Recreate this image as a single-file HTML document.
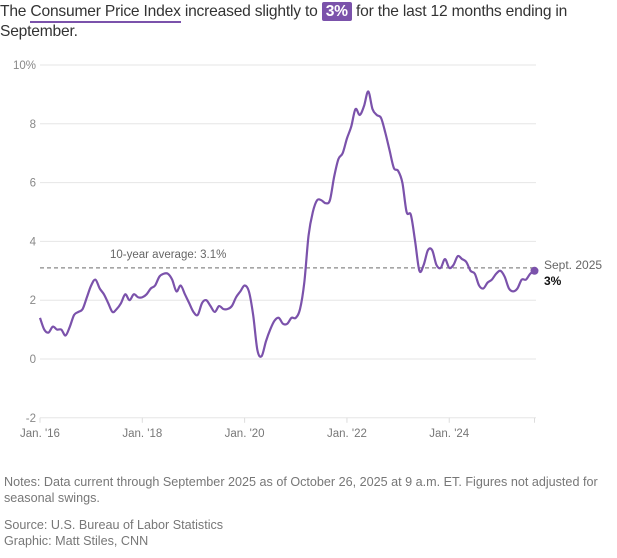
<!DOCTYPE html>
<html><head><meta charset="utf-8"><style>
body{margin:0;background:#fff;width:617px;height:558px;overflow:hidden;font-family:"Liberation Sans",sans-serif;}
#title{position:absolute;left:0;top:2px;width:617px;font-size:15.6px;line-height:20px;color:#333;letter-spacing:-0.2px;}
.ul{border-bottom:2px solid #7b52ab;padding-bottom:1px;}
.hl{background:#7b52ab;color:#fff;font-weight:bold;padding:1px 4px;border-radius:2px;}
.notes{position:absolute;left:4px;font-size:12.6px;color:#777;line-height:16px;}
</style></head><body>
<div id="title">The <span class="ul">Consumer Price Index</span> increased slightly to <span class="hl">3%</span> for the last 12 months ending in September.</div>
<svg id="chart" width="617" height="558" style="position:absolute;left:0;top:0"></svg>
<div class="notes" style="top:474px">Notes: Data current through September 2025 as of October 26, 2025 at 9 a.m. ET. Figures not adjusted for<br>seasonal swings.</div>
<div class="notes" style="top:517px">Source: U.S. Bureau of Labor Statistics<br>Graphic: Matt Stiles, CNN</div>
<script>
const cpiValues=[1.4,1.0,0.9,1.1,1.0,1.0,0.8,1.1,1.5,1.6,1.7,2.1,
2.5,2.7,2.4,2.2,1.9,1.6,1.7,1.9,2.2,2.0,2.2,2.1,
2.1,2.2,2.4,2.5,2.8,2.9,2.9,2.7,2.3,2.5,2.2,1.9,
1.6,1.5,1.9,2.0,1.8,1.6,1.8,1.7,1.7,1.8,2.1,2.3,
2.5,2.3,1.5,0.3,0.1,0.6,1.0,1.3,1.4,1.2,1.2,1.4,
1.4,1.7,2.6,4.2,5.0,5.4,5.4,5.3,5.4,6.2,6.8,7.0,
7.5,7.9,8.5,8.3,8.6,9.1,8.5,8.3,8.2,7.7,7.1,6.5,
6.4,6.0,5.0,4.9,4.0,3.0,3.2,3.7,3.7,3.2,3.1,3.4,
3.1,3.2,3.5,3.4,3.3,3.0,2.9,2.5,2.4,2.6,2.7,2.9,
3.0,2.8,2.4,2.3,2.4,2.7,2.7,2.9,3.0];
const yTicks=[-2,0,2,4,6,8,10];
const xTickMonths=[0,24,48,72,96];
const xTickLabels=["Jan. '16","Jan. '18","Jan. '20","Jan. '22","Jan. '24"];
const averageValue=3.1;
const NS="http://www.w3.org/2000/svg",svg=document.getElementById('chart');
const x0=40,x1=534.5,y0=359,ppu=29.4;
const nM=cpiValues.length-1;
const X=m=>x0+(x1-x0)*m/nM;
const Y=v=>y0-v*ppu;
function el(t,a,txt){const e=document.createElementNS(NS,t);for(const k in a)e.setAttribute(k,a[k]);if(txt!=null)e.textContent=txt;svg.appendChild(e);return e;}
yTicks.forEach(v=>{
 const g=el('line',{x1:x0,x2:536,y1:Y(v),y2:Y(v),stroke:'#e6e6e6','stroke-width':1});
 
 
 const t=el('text',{x:36,y:Y(v)+4,'text-anchor':'end','font-size':11.5,fill:'#888','font-family':'Liberation Sans'},v===10?'10%':String(v));
 
 
});
xTickMonths.concat([nM]).forEach(m=>{
 const tk=el('line',{x1:X(m),x2:X(m),y1:Y(-2),y2:Y(-2)+5,stroke:'#ddd'});
 
 
});
xTickMonths.forEach((m,i)=>{
 const t=el('text',{x:X(m),y:437,'text-anchor':'middle','font-size':11.5,fill:'#777','font-family':'Liberation Sans'},xTickLabels[i]);
 
 
});
const av=el('line',{x1:x0,x2:536,y1:Y(averageValue),y2:Y(averageValue),stroke:'#888','stroke-dasharray':'4,3','stroke-width':1.2});


const at=el('text',{x:110,y:Y(averageValue)-10,'font-size':11.5,fill:'#666','font-family':'Liberation Sans'},'10-year average: '+averageValue+'%');


const pts=cpiValues.map((v,i)=>[X(i),Y(v)]);
let d='M'+pts[0][0]+','+pts[0][1];
for(let i=0;i<pts.length-1;i++){
 const p0=pts[Math.max(0,i-1)],p1=pts[i],p2=pts[i+1],p3=pts[Math.min(pts.length-1,i+2)];
 const c1=[p1[0]+(p2[0]-p0[0])/6,p1[1]+(p2[1]-p0[1])/6],c2=[p2[0]-(p3[0]-p1[0])/6,p2[1]-(p3[1]-p1[1])/6];
 d+=` C${c1[0]},${c1[1]} ${c2[0]},${c2[1]} ${p2[0]},${p2[1]}`;
}
const ln=el('path',{d:d,fill:'none',stroke:'#7b52ab','stroke-width':2.2,'stroke-linejoin':'round'});


const last=cpiValues[nM];
const dot=el('circle',{cx:X(nM),cy:Y(last),r:4,fill:'#7b52ab'});


const l1=el('text',{x:544,y:Y(last)-2,'font-size':12,fill:'#666','font-family':'Liberation Sans'},'Sept. 2025');


const l2=el('text',{x:544,y:Y(last)+14,'font-size':12,'font-weight':'bold',fill:'#111','font-family':'Liberation Sans'},last+'%');


</script>
</body></html>
